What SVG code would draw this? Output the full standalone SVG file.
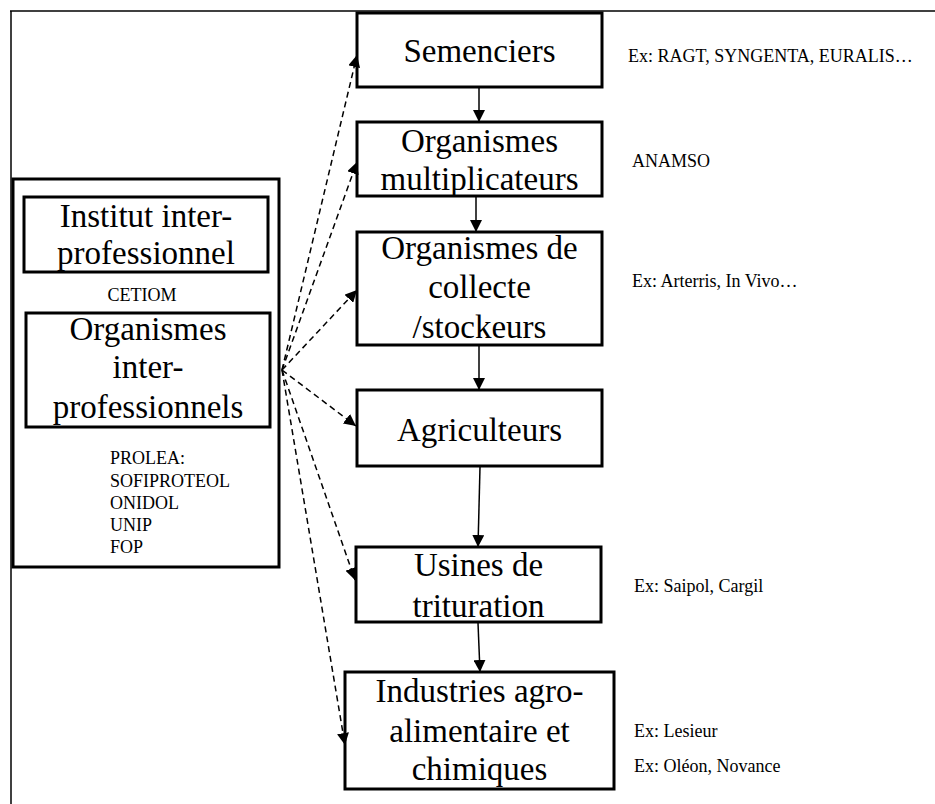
<svg xmlns="http://www.w3.org/2000/svg" width="935" height="804" viewBox="0 0 935 804">
<style>
.box{fill:none;stroke:#000;stroke-width:3}
.big{font-size:33px;text-anchor:middle;fill:#000}
.sm{font-size:18px;fill:#000}
.solid{stroke:#000;stroke-width:1.5;fill:none}
.dash{stroke:#000;stroke-width:1.5;fill:none;stroke-dasharray:6 4}
</style>
<defs>
<marker id="ah" markerUnits="userSpaceOnUse" markerWidth="12" markerHeight="12" refX="10" refY="5" orient="auto" viewBox="0 0 10 10">
<path d="M0,0 L10,5 L0,10 Z" fill="#000"/>
</marker>
</defs>
<rect width="935" height="804" fill="#fff"/>
<g id="frame">
<line x1="10" y1="11" x2="935" y2="11" stroke="#000" stroke-width="1.5"/>
<line x1="11" y1="11" x2="11" y2="804" stroke="#000" stroke-width="1.5"/>
</g>
<g font-family="Liberation Serif, Tinos, Times New Roman, DejaVu Serif, serif">
<g id="left-group">
<rect class="box" x="13" y="179" width="266" height="388"/>
</g>
<g id="institut">
<rect class="box" x="24" y="197" width="244" height="75"/>
<text class="big" x="146" y="227">Institut inter-</text>
<text class="big" x="146" y="264">professionnel</text>
</g>
<g id="cetiom">
<text class="sm" x="142" y="301" text-anchor="middle">CETIOM</text>
</g>
<g id="organismes-inter">
<rect class="box" x="26" y="313" width="244" height="114"/>
<text class="big" x="148" y="340">Organismes</text>
<text class="big" x="148" y="378">inter-</text>
<text class="big" x="148" y="418">professionnels</text>
</g>
<g id="prolea">
<text class="sm" x="110" y="464">PROLEA:</text>
<text class="sm" x="110" y="487">SOFIPROTEOL</text>
<text class="sm" x="110" y="509">ONIDOL</text>
<text class="sm" x="110" y="531">UNIP</text>
<text class="sm" x="110" y="553">FOP</text>
</g>
<g id="semenciers">
<rect class="box" x="357" y="13" width="245" height="74"/>
<text class="big" x="479.5" y="62">Semenciers</text>
</g>
<g id="multiplicateurs">
<rect class="box" x="357" y="122" width="245" height="74"/>
<text class="big" x="479.5" y="152">Organismes</text>
<text class="big" x="479.5" y="190">multiplicateurs</text>
</g>
<g id="collecte">
<rect class="box" x="357" y="232" width="245" height="113"/>
<text class="big" x="479.5" y="259">Organismes de</text>
<text class="big" x="479.5" y="298">collecte</text>
<text class="big" x="479.5" y="338">/stockeurs</text>
</g>
<g id="agriculteurs">
<rect class="box" x="357" y="390" width="245" height="76"/>
<text class="big" x="479.5" y="441">Agriculteurs</text>
</g>
<g id="usines">
<rect class="box" x="356" y="547" width="245" height="75"/>
<text class="big" x="478.5" y="576">Usines de</text>
<text class="big" x="478.5" y="617">trituration</text>
</g>
<g id="industries">
<rect class="box" x="345" y="672" width="269" height="117"/>
<text class="big" x="479.5" y="702">Industries agro-</text>
<text class="big" x="479.5" y="742">alimentaire et</text>
<text class="big" x="479.5" y="780">chimiques</text>
</g>
<g id="examples">
<text class="sm" x="628" y="62">Ex: RAGT, SYNGENTA, EURALIS…</text>
<text class="sm" x="632" y="167">ANAMSO</text>
<text class="sm" x="632" y="287">Ex: Arterris, In Vivo…</text>
<text class="sm" x="634" y="592">Ex: Saipol, Cargil</text>
<text class="sm" x="634" y="737">Ex: Lesieur</text>
<text class="sm" x="634" y="772">Ex: Oléon, Novance</text>
</g>
</g>
<g id="connectors">
<line class="solid" x1="479" y1="88" x2="479" y2="122" marker-end="url(#ah)"/>
<line class="solid" x1="476" y1="197" x2="476" y2="232" marker-end="url(#ah)"/>
<line class="solid" x1="479" y1="346" x2="479" y2="390" marker-end="url(#ah)"/>
<line class="solid" x1="480" y1="467" x2="478" y2="547" marker-end="url(#ah)"/>
<line class="solid" x1="478" y1="623" x2="480" y2="672" marker-end="url(#ah)"/>
<line class="dash" x1="282" y1="370" x2="357" y2="55" marker-end="url(#ah)"/>
<line class="dash" x1="282" y1="370" x2="357" y2="162" marker-end="url(#ah)"/>
<line class="dash" x1="282" y1="370" x2="357" y2="290" marker-end="url(#ah)"/>
<line class="dash" x1="282" y1="370" x2="356" y2="426" marker-end="url(#ah)"/>
<line class="dash" x1="282" y1="370" x2="355" y2="580" marker-end="url(#ah)"/>
<line class="dash" x1="282" y1="370" x2="345" y2="745" marker-end="url(#ah)"/>
</g>
</svg>
